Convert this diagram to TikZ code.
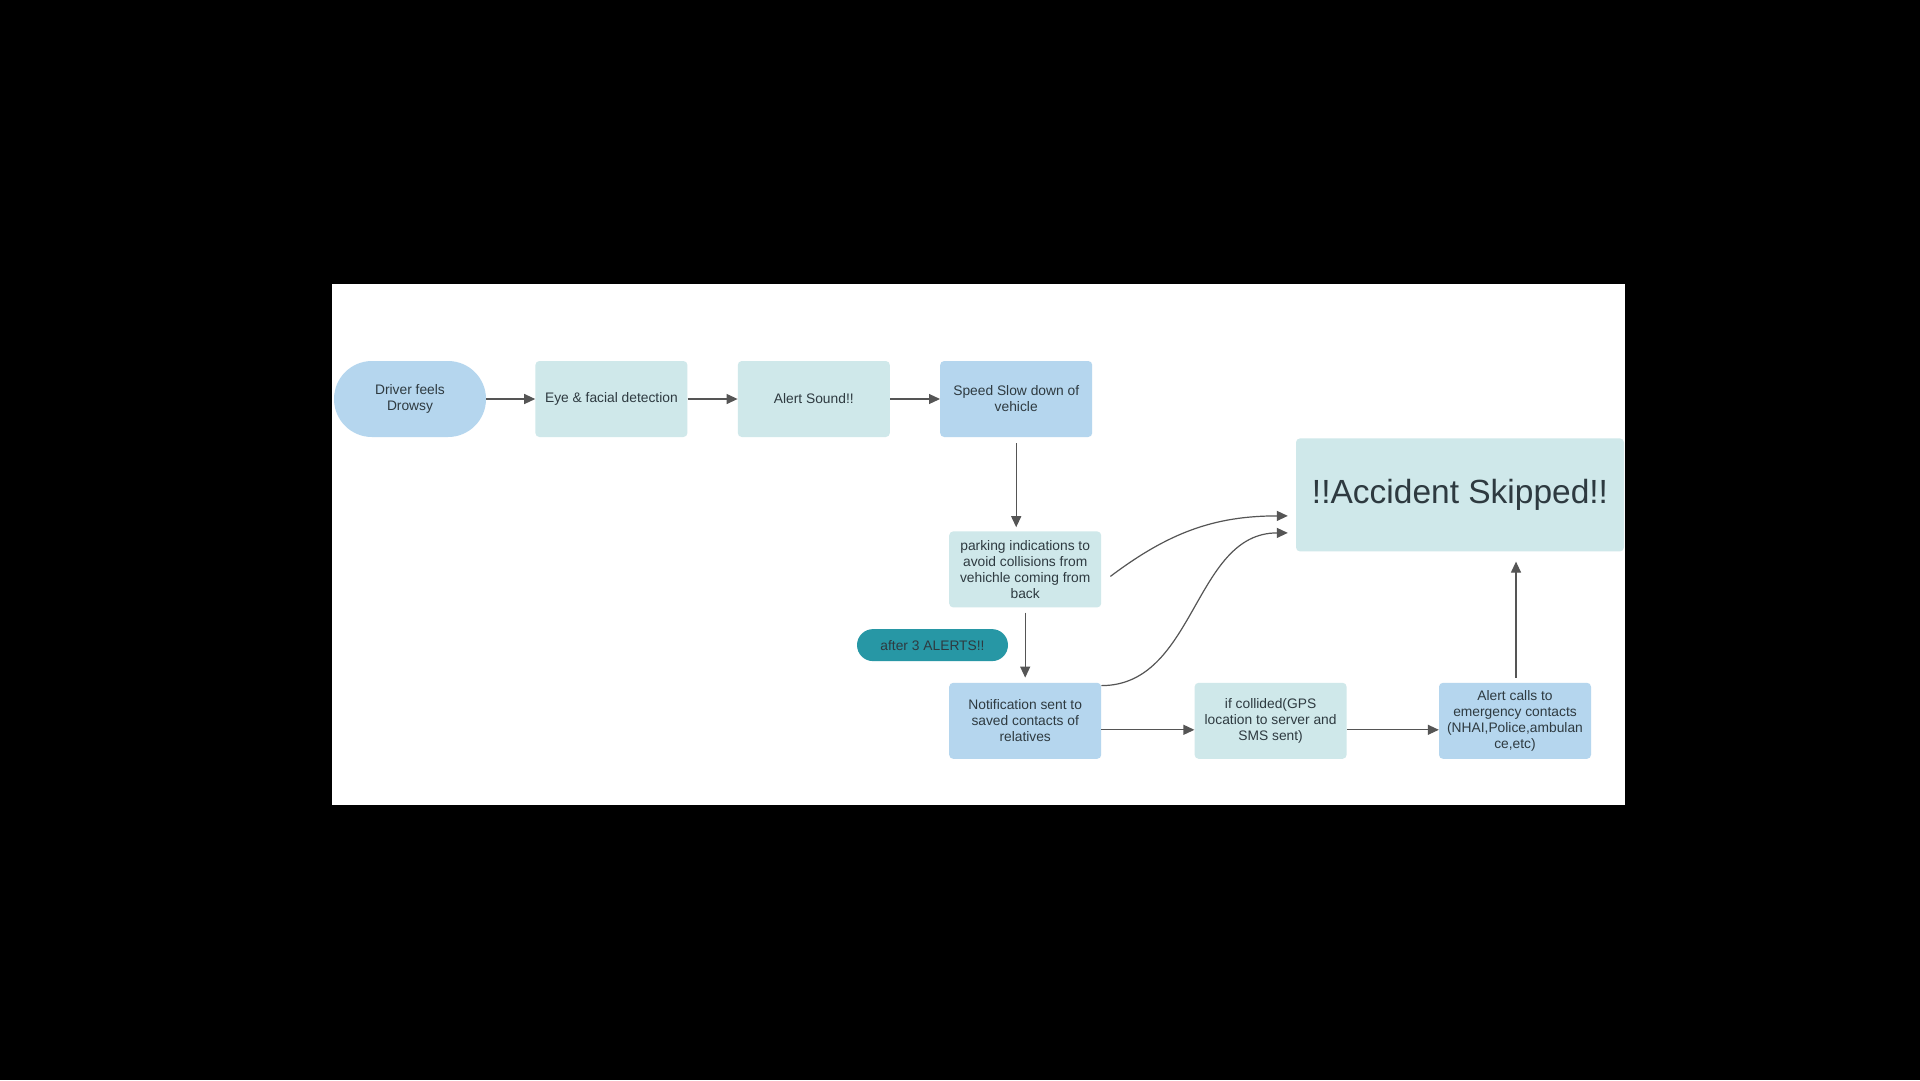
\documentclass[tikz,border=0pt]{standalone}
\usepackage{fontspec}
\setmainfont{Liberation Sans}
\usetikzlibrary{positioning, calc, arrows.meta}
\definecolor{boxblue}{HTML}{B5D6EE}
\definecolor{boxteal}{HTML}{CFE8EA}
\definecolor{pillteal}{HTML}{2797A5}
\definecolor{inkgray}{HTML}{2E3A40}
\definecolor{linegray}{HTML}{555555}
\tikzset{
    boxed/.style={rectangle, rounded corners=4pt, minimum width=152pt, minimum height=76pt, inner sep=2pt, align=center, text=inkgray, font=\fontsize{13.8}{16}\selectfont},
    bluebox/.style={boxed, fill=boxblue},
    tealbox/.style={boxed, fill=boxteal},
    startbox/.style={bluebox, rounded corners=38pt},
    pill/.style={rectangle, rounded corners=16pt, fill=pillteal, minimum width=151pt, minimum height=32pt, inner sep=2pt, text=inkgray, font=\fontsize{13.8}{16}\selectfont},
    flow/.style={color=linegray, line width=1.2pt, -{Triangle[length=11pt,width=10pt]}} }

\begin{document}
\begin{tikzpicture}[x=1pt, y=1pt, node distance=50pt]
    % page and sheet
    \fill[black] (0,0) rectangle (1920,-1080);
    \fill[white] (332,-284) rectangle (1625,-805);
    % ----
    \node[startbox] (D) at (410,-399) {Driver feels\\Drowsy};
    \node[tealbox, right = 49pt of D] (E) {Eye \& facial detection};
    \node[tealbox, right = of E] (A) {Alert Sound!!};
    \node[bluebox, right = of A] (S) {Speed Slow down of\\vehicle};
    \node[tealbox, below = 94pt of S, xshift=9pt] (P) {parking indications to\\avoid collisions from\\vehichle coming from\\back};
    \node[bluebox, below = 75pt of P] (N) {Notification sent to\\saved contacts of\\relatives};
    \node[tealbox, right = 93pt of N] (C) {if collided(GPS\\location to server and\\SMS sent)};
    \node[bluebox, right = 92pt of C] (L) {Alert calls to\\emergency contacts\\(NHAI,Police,ambulan\\ce,etc)};
    \node[tealbox, above = 131pt of L, xshift=-55pt, minimum width=328pt, minimum height=113pt, font=\fontsize{33.5}{38}\selectfont] (K) {!!Accident Skipped!!};
    \node[pill, anchor=east] (T) at ($(P.south)!0.5!(N.north)+(-17pt,0)$) {after 3 ALERTS!!};
    % ----
    \path[flow]
        (D) edge (E)
        (E) edge (A)
        (A) edge (S)
        (S) edge[shorten <=6pt, shorten >=4pt] (S.south |- P.north)
        (P) edge[shorten <=5pt, shorten >=5pt] (N)
        ([yshift=-9pt]N.east) edge ([yshift=-9pt]C.west)
        ([yshift=-9pt]C.east) edge ([yshift=-9pt]L.west)
        ([xshift=1pt]L.north) edge[shorten <=5pt, shorten >=10pt] ([xshift=1pt]L.north |- K.south)
        ([xshift=9pt, yshift=-7pt]P.east) edge[out=37, in=180] ([xshift=-8pt, yshift=-21pt]K.west)
        ([yshift=-3pt]N.north east) edge[out=0, in=180] ([xshift=-8pt, yshift=-38pt]K.west);
\end{tikzpicture}
\end{document}
